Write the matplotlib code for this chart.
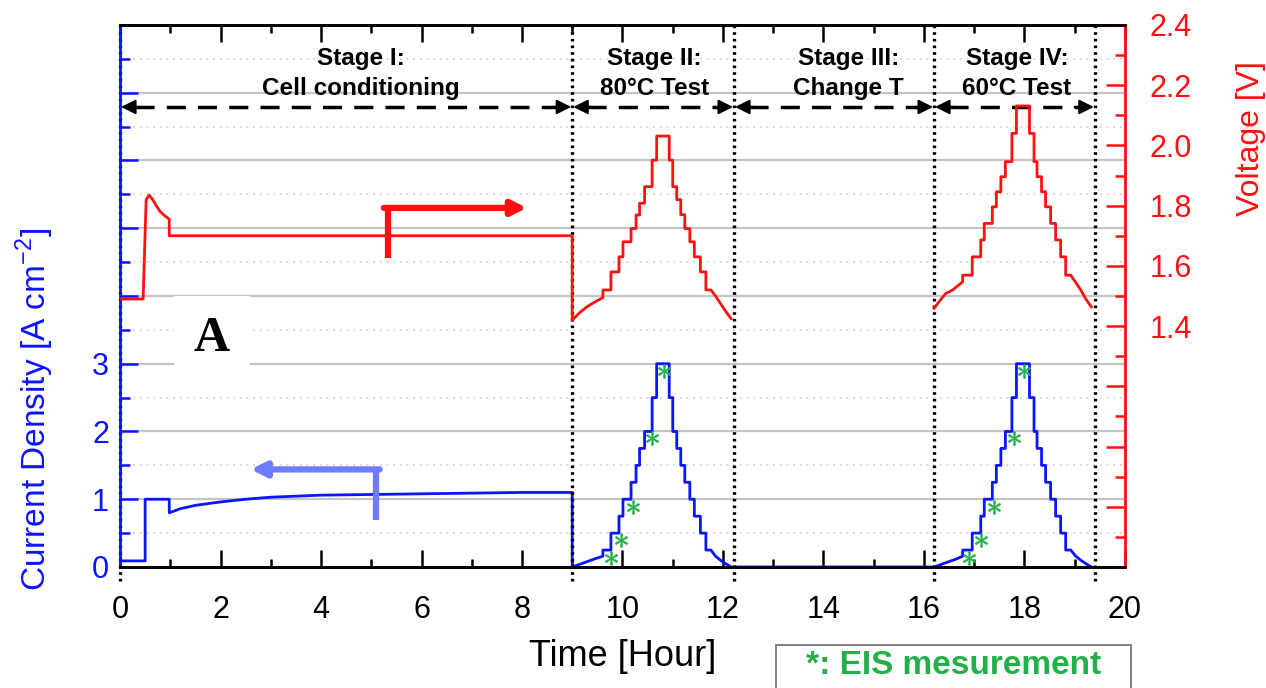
import matplotlib
matplotlib.use("Agg")
import matplotlib.pyplot as plt
from matplotlib.patches import Rectangle
from matplotlib.ticker import MultipleLocator, FuncFormatter

plt.rcParams['font.family'] = ['Liberation Sans', 'DejaVu Sans']
plt.rcParams['mathtext.fontset'] = 'custom'
plt.rcParams['mathtext.rm'] = 'Liberation Sans'

# ---------------- data ----------------
# current density [A cm-2], vertices (time [h], value)
cur_t = [0.0, 0.50, 0.50, 0.98, 0.98, 1.2, 1.5, 2.0, 2.5, 3.0, 4.0, 5.0, 6.0, 7.0, 8.0, 9.0, 9.0,
         9.15, 9.30, 9.45, 9.61, 9.61, 9.77, 9.77, 9.93, 9.93, 10.01, 10.01, 10.17, 10.17, 10.27, 10.27,
         10.34, 10.34, 10.44, 10.44, 10.59, 10.59, 10.68, 10.68, 10.93, 10.93, 11.00, 11.00, 11.08, 11.08,
         11.16, 11.16, 11.24, 11.24, 11.34, 11.34, 11.43, 11.43, 11.55, 11.55, 11.66, 11.66, 11.76,
         11.85, 11.95, 12.05, 12.16,
         16.20,
         16.35, 16.50, 16.65, 16.77, 16.77, 16.96, 16.96, 17.13, 17.13, 17.20, 17.20, 17.36, 17.36, 17.44, 17.44,
         17.53, 17.53, 17.62, 17.62, 17.75, 17.75, 17.84, 17.84, 18.10, 18.10, 18.19, 18.19, 18.25, 18.25,
         18.34, 18.34, 18.42, 18.42, 18.52, 18.52, 18.62, 18.62, 18.72, 18.72, 18.82, 18.82, 18.92,
         19.02, 19.12, 19.22, 19.33]
cur_j = [0.09, 0.09, 1.00, 1.00, 0.80, 0.86, 0.91, 0.96, 1.00, 1.03, 1.06, 1.07, 1.08, 1.09, 1.10, 1.10, 0.0,
         0.04, 0.08, 0.12, 0.16, 0.25, 0.25, 0.50, 0.50, 0.75, 0.75, 1.00, 1.00, 1.25, 1.25, 1.50,
         1.50, 1.75, 1.75, 2.00, 2.00, 2.50, 2.50, 3.00, 3.00, 2.50, 2.50, 2.00, 2.00, 1.75,
         1.75, 1.50, 1.50, 1.25, 1.25, 1.00, 1.00, 0.75, 0.75, 0.50, 0.50, 0.25, 0.25,
         0.16, 0.10, 0.05, 0.0,
         0.0,
         0.04, 0.08, 0.12, 0.16, 0.25, 0.25, 0.50, 0.50, 0.75, 0.75, 1.00, 1.00, 1.25, 1.25, 1.50,
         1.50, 1.75, 1.75, 2.00, 2.00, 2.50, 2.50, 3.00, 3.00, 2.50, 2.50, 2.00, 2.00, 1.75,
         1.75, 1.50, 1.50, 1.25, 1.25, 1.00, 1.00, 0.75, 0.75, 0.50, 0.50, 0.25, 0.25,
         0.16, 0.10, 0.05, 0.0]

# cell voltage [V], stage I
v1_t = [0.0, 0.46, 0.52, 0.58, 0.65, 0.72, 0.80, 0.90, 0.98, 0.98, 9.0, 9.0]
v1_v = [1.49, 1.49, 1.82, 1.835, 1.82, 1.80, 1.78, 1.765, 1.755, 1.70, 1.70, 1.42]
# stage II (80 C)
v2_t = [9.0, 9.15, 9.30, 9.45, 9.61, 9.61, 9.77, 9.77, 9.93, 9.93, 10.01, 10.01, 10.17, 10.17, 10.27, 10.27,
        10.34, 10.34, 10.44, 10.44, 10.59, 10.59, 10.68, 10.68, 10.93, 10.93, 11.00, 11.00, 11.08, 11.08,
        11.16, 11.16, 11.24, 11.24, 11.34, 11.34, 11.43, 11.43, 11.55, 11.55, 11.66, 11.66, 11.76,
        11.85, 11.95, 12.05, 12.16]
v2_v = [1.42, 1.445, 1.465, 1.48, 1.495, 1.52, 1.52, 1.58, 1.58, 1.63, 1.63, 1.68, 1.68, 1.724, 1.724, 1.769,
        1.769, 1.808, 1.808, 1.863, 1.863, 1.951, 1.951, 2.031, 2.031, 1.951, 1.951, 1.863, 1.863, 1.82,
        1.82, 1.77, 1.77, 1.724, 1.724, 1.68, 1.68, 1.63, 1.63, 1.58, 1.58, 1.52, 1.52,
        1.50, 1.475, 1.45, 1.425]
# stage IV (60 C)
v4_t = [16.20, 16.30, 16.43, 16.57, 16.77, 16.77, 16.96, 16.96, 17.13, 17.13, 17.20, 17.20, 17.36, 17.36,
        17.44, 17.44, 17.53, 17.53, 17.62, 17.62, 17.75, 17.75, 17.84, 17.84, 18.10, 18.10, 18.19, 18.19,
        18.25, 18.25, 18.34, 18.34, 18.42, 18.42, 18.52, 18.52, 18.62, 18.62, 18.72, 18.72, 18.82, 18.82,
        18.92, 19.02, 19.12, 19.22, 19.33]
v4_v = [1.459, 1.481, 1.508, 1.52, 1.547, 1.569, 1.569, 1.630, 1.630, 1.686, 1.686, 1.741, 1.741, 1.796,
        1.796, 1.846, 1.846, 1.896, 1.896, 1.946, 1.946, 2.040, 2.040, 2.131, 2.131, 2.040, 2.040, 1.946,
        1.946, 1.896, 1.896, 1.846, 1.846, 1.796, 1.796, 1.741, 1.741, 1.686, 1.686, 1.630, 1.630, 1.569,
        1.569, 1.545, 1.52, 1.49, 1.464]

# EIS measurement points
eis_t = [9.78, 9.98, 10.20, 10.59, 10.82, 16.90, 17.13, 17.40, 17.79, 18.00]
eis_j = [0.13, 0.40, 0.88, 1.91, 2.90, 0.13, 0.40, 0.88, 1.91, 2.90]

# stage boundaries and labels
stage_edges = [0.0, 9.0, 12.22, 16.2, 19.4]
stage_labels = ["Stage I:\nCell conditioning", "Stage II:\n80°C Test",
                "Stage III:\nChange T", "Stage IV:\n60°C Test"]
stage_label_x = [4.8, 10.64, 14.5, 17.85]

x_ticks = [0, 2, 4, 6, 8, 10, 12, 14, 16, 18, 20]
j_tick_labels = [0, 1, 2, 3]
v_tick_labels = [1.4, 1.6, 1.8, 2.0, 2.2, 2.4]

BLUE = "#0a14ff"
RED = "#ff1010"
GREEN = "#22b04a"

# ---------------- figure ----------------
fig = plt.figure(figsize=(12.66, 6.88), dpi=100)
ax = fig.add_axes([0.0948, 0.1759, 0.7938, 0.7878])
ax2 = ax.twinx()

ax.set_xlim(0, 20)
ax.set_ylim(0, 8)
ax2.set_ylim(0.6, 2.4)

# grid (left axis based)
for g in range(1, 8):
    ax.axhline(g, color="#c4c4c4", lw=1.6, zorder=0)
for g in range(0, 8):
    ax.axhline(g + 0.5, color="#cccccc", lw=1.2, ls=(0, (1, 3)), zorder=0)

# curves
ax.plot(cur_t, cur_j, color=BLUE, lw=2.0, zorder=3)
ax2.plot(v1_t, v1_v, color=RED, lw=2.0, zorder=3)
ax2.plot(v2_t, v2_v, color=RED, lw=2.0, zorder=3)
ax2.plot(v4_t, v4_v, color=RED, lw=2.0, zorder=3)
ax.plot(eis_t, eis_j, ls="none", marker=r"$\ast$", ms=10, color=GREEN, mew=0.5, zorder=4)

# stage boundaries
for e in stage_edges:
    ax.plot([e, e], [-0.2, 8], color="black", lw=2.4, ls=(0, (0.8, 1.2)),
            clip_on=False, zorder=5)

# dashed double arrows
y_arr = 6.79
for a, b in zip(stage_edges[:-1], stage_edges[1:]):
    ax.plot([a + 0.3, b - 0.3], [y_arr, y_arr], color="black", lw=2.5,
            ls=(0, (5.5, 3.5)), zorder=5)
    for tip, tail in ((a + 0.02, a + 0.4), (b - 0.02, b - 0.4)):
        ax.annotate("", xy=(tip, y_arr), xytext=(tail, y_arr),
                    arrowprops=dict(arrowstyle="-|>", color="black", lw=1.5,
                                    mutation_scale=22, shrinkA=0, shrinkB=0),
                    zorder=6)

for lx, lab in zip(stage_label_x, stage_labels):
    ax.text(lx, 7.28, lab, ha="center", va="center", fontsize=17.5,
            fontweight="bold", linespacing=1.38, zorder=6)

# direction arrows
ax.plot([5.33, 5.33], [4.56, 5.3], color=RED, lw=4.5, solid_capstyle="butt", zorder=4)
ax.annotate("", xy=(8.1, 5.3), xytext=(5.25, 5.3),
            arrowprops=dict(arrowstyle="-|>", color=RED, lw=4.5,
                            mutation_scale=22, shrinkA=0, shrinkB=0), zorder=4)
ax.plot([5.1, 5.1], [0.7, 1.47], color="#6d7cff", lw=4.5, solid_capstyle="butt", zorder=4)
ax.annotate("", xy=(2.6, 1.44), xytext=(5.17, 1.44),
            arrowprops=dict(arrowstyle="-|>", color="#6d7cff", lw=4.5,
                            mutation_scale=22, shrinkA=0, shrinkB=0), zorder=4)

# "A" label with white background
ax.text(1.83, 3.36, "A", ha="center", va="center", fontsize=36, fontweight="bold",
        family="Liberation Serif", zorder=2,
        bbox=dict(boxstyle="square,pad=0.4", fc="white", ec="none"))

# ---------------- axes styling ----------------
ax.set_xticks(x_ticks)
ax.xaxis.set_minor_locator(MultipleLocator(1))
ax.tick_params(axis="x", which="both", direction="in", top=True, bottom=True,
               colors="black", labelsize=22, width=1.8, pad=20)
ax.tick_params(axis="x", which="major", length=12)
ax.tick_params(axis="x", which="minor", length=6)

ax.yaxis.set_major_locator(MultipleLocator(1))
ax.yaxis.set_minor_locator(MultipleLocator(0.5))
ax.yaxis.set_major_formatter(FuncFormatter(
    lambda v, p: f"{int(round(v))}" if int(round(v)) in j_tick_labels else ""))
ax.tick_params(axis="y", which="both", direction="in", colors=BLUE, labelsize=22, width=1.8,
               labelcolor=BLUE, pad=8)
ax.tick_params(axis="y", which="major", length=13)
ax.tick_params(axis="y", which="minor", length=7)

ax2.yaxis.set_major_locator(MultipleLocator(0.2))
ax2.yaxis.set_minor_locator(MultipleLocator(0.1))
ax2.yaxis.set_major_formatter(FuncFormatter(
    lambda v, p: f"{v:.1f}" if any(abs(v - t) < 1e-6 for t in v_tick_labels) else ""))
ax2.tick_params(axis="y", which="both", direction="in", colors=RED, labelsize=22, width=1.8,
                labelcolor=RED, pad=18)
ax2.tick_params(axis="y", which="major", length=14)
ax2.tick_params(axis="y", which="minor", length=7)

for sp in ("top", "bottom"):
    ax.spines[sp].set_color("black")
    ax.spines[sp].set_linewidth(2)
    ax2.spines[sp].set_color("black")
    ax2.spines[sp].set_linewidth(2)
ax2.spines["left"].set_color(BLUE)
ax2.spines["left"].set_linewidth(2)
ax2.spines["right"].set_color(RED)
ax2.spines["right"].set_linewidth(2)
ax.spines["left"].set_color(BLUE)
ax.spines["right"].set_color(RED)

ax.set_xlabel("Time [Hour]", fontsize=26, labelpad=10)
ax.set_ylabel("Current Density [A cm$^{\\mathregular{-2}}$]", fontsize=24, color=BLUE)
ax.yaxis.set_label_coords(-0.064, 0.29)
ax2.set_ylabel("Voltage [V]", fontsize=23, color=RED)
ax2.yaxis.set_label_coords(1.11, 0.79)

# EIS legend box (runs off the bottom edge as in the original)
fig.patches.append(Rectangle((0.613, -0.05), 0.2804, 0.1125, transform=fig.transFigure,
                             fc="white", ec="#777777", lw=1.3, zorder=1))
fig.text(0.7536, 0.033, "*: EIS mesurement", ha="center", va="center", fontsize=24,
         fontweight="bold", color=GREEN, zorder=2)

fig.savefig("out.png", dpi=100)
